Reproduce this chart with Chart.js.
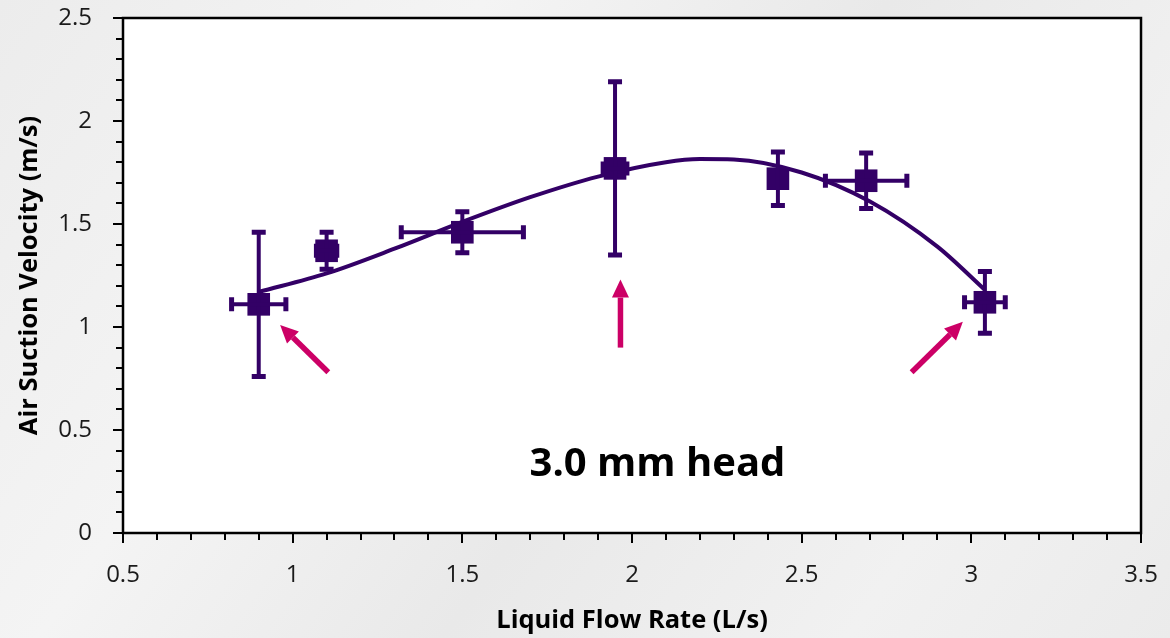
<!doctype html>
<html>
<head>
<meta charset="UTF-8">
<script src="https://cdn.jsdelivr.net/npm/chart.js@4"></script>
<style>
  html, body { margin: 0; padding: 0; }
  body { width: 1170px; height: 638px; overflow: hidden;
    background: linear-gradient(125deg, #ececec 0%, #f4f4f4 30%, #e9e9e9 55%, #f1f1f1 80%, #ebebeb 100%); }
  #wrap { position: relative; width: 1170px; height: 638px; }
  canvas { display: block; }
</style>
</head>
<body>
<div id="wrap"><canvas id="chart" width="1170" height="638"></canvas></div>
<script>
// measured points (L/s vs m/s) with error bars
const flowRate    = [0.90, 1.10, 1.50, 1.95, 2.43, 2.69, 3.04];
const airVelocity = [1.11, 1.37, 1.46, 1.77, 1.72, 1.71, 1.12];
const velErr      = [0.35, 0.09, 0.10, 0.42, 0.13, 0.135, 0.15];
const flowErr     = [0.08, 0.03, 0.18, 0.035, 0, 0.12, 0.06];

// trend curve
const fitFlow = [0.90, 1.10, 1.30, 1.50, 1.70, 1.90, 2.10, 2.20, 2.30, 2.50, 2.70, 2.90, 3.04];
const fitVel  = [1.17, 1.26, 1.38, 1.51, 1.63, 1.73, 1.80, 1.815, 1.813, 1.75, 1.61, 1.39, 1.18];

// axis ticks
const xTicks = [0.5, 1, 1.5, 2, 2.5, 3, 3.5];
const yTicks = [0, 0.5, 1, 1.5, 2, 2.5];

// pink arrows [tailX, tailY, tipX, tipY] and the label
const arrows = [[1.105, 0.78, 0.963, 1.01], [1.966, 0.90, 1.966, 1.23], [2.824, 0.78, 2.975, 1.025]];
const headLabel = { text: "3.0 mm head", x: 2.075, y: 0.33 };

const PURPLE = "#330066";
const PINK = "#cc0066";
const FONT = "'Open Sans', Lato, sans-serif";

const points = flowRate.map((x, i) => ({ x, y: airVelocity[i] }));
const curve = fitFlow.map((x, i) => ({ x, y: fitVel[i] }));

const decor = {
  id: "decor",
  beforeDraw(chart) {
    const { ctx, chartArea: a } = chart;
    ctx.save();
    ctx.fillStyle = "#fff";
    ctx.fillRect(a.left, a.top, a.right - a.left, a.bottom - a.top);
    ctx.restore();
  },
  afterDatasetsDraw(chart) {
    const { ctx, chartArea: a, scales: { x, y } } = chart;
    ctx.save();
    // error bars
    ctx.strokeStyle = PURPLE;
    ctx.lineCap = "butt";
    const cap = 7;
    flowRate.forEach((fx, i) => {
      const px = x.getPixelForValue(fx), py = y.getPixelForValue(airVelocity[i]);
      if (velErr[i]) {
        const t = y.getPixelForValue(airVelocity[i] + velErr[i]);
        const b = y.getPixelForValue(airVelocity[i] - velErr[i]);
        ctx.lineWidth = 4;
        ctx.beginPath(); ctx.moveTo(px, t); ctx.lineTo(px, b); ctx.stroke();
        ctx.lineWidth = 5;
        ctx.beginPath();
        ctx.moveTo(px - cap, t); ctx.lineTo(px + cap, t);
        ctx.moveTo(px - cap, b); ctx.lineTo(px + cap, b);
        ctx.stroke();
      }
      if (flowErr[i]) {
        const l = x.getPixelForValue(fx - flowErr[i]);
        const r = x.getPixelForValue(fx + flowErr[i]);
        ctx.lineWidth = 4;
        ctx.beginPath(); ctx.moveTo(l, py); ctx.lineTo(r, py); ctx.stroke();
        ctx.lineWidth = 5;
        ctx.beginPath();
        ctx.moveTo(l, py - cap); ctx.lineTo(l, py + cap);
        ctx.moveTo(r, py - cap); ctx.lineTo(r, py + cap);
        ctx.stroke();
      }
    });
    // arrows
    ctx.strokeStyle = PINK; ctx.fillStyle = PINK;
    arrows.forEach(([tx, ty, hx, hy]) => {
      const x0 = x.getPixelForValue(tx), y0 = y.getPixelForValue(ty);
      const x1 = x.getPixelForValue(hx), y1 = y.getPixelForValue(hy);
      const ang = Math.atan2(y1 - y0, x1 - x0);
      const hl = 18, hw = 8.5;
      const bx = x1 - hl * Math.cos(ang), by = y1 - hl * Math.sin(ang);
      ctx.lineWidth = 5.5;
      ctx.beginPath(); ctx.moveTo(x0, y0); ctx.lineTo(bx, by); ctx.stroke();
      ctx.beginPath();
      ctx.moveTo(x1, y1);
      ctx.lineTo(bx + hw * Math.sin(ang), by - hw * Math.cos(ang));
      ctx.lineTo(bx - hw * Math.sin(ang), by + hw * Math.cos(ang));
      ctx.closePath(); ctx.fill();
    });
    // label
    ctx.fillStyle = "#000";
    ctx.font = "bold 40px " + FONT;
    ctx.textAlign = "center"; ctx.textBaseline = "middle";
    ctx.fillText(headLabel.text, x.getPixelForValue(headLabel.x), y.getPixelForValue(headLabel.y));
    ctx.restore();
  },
  afterDraw(chart) {
    const { ctx, chartArea: a, scales: { x, y } } = chart;
    ctx.save();
    ctx.strokeStyle = "#000";
    ctx.lineWidth = 2.5;
    ctx.strokeRect(a.left, a.top, a.right - a.left, a.bottom - a.top);
    ctx.lineWidth = 2;
    ctx.beginPath();
    for (let k = 5; k <= 35; k++) {
      const px = Math.round(x.getPixelForValue(k / 10));
      const len = k % 5 === 0 ? 10 : 7;
      ctx.moveTo(px, a.bottom); ctx.lineTo(px, a.bottom + len);
    }
    for (let k = 0; k <= 25; k++) {
      const py = Math.round(y.getPixelForValue(k / 10));
      const len = k % 5 === 0 ? 10 : 7;
      ctx.moveTo(a.left, py); ctx.lineTo(a.left - len, py);
    }
    ctx.stroke();
    ctx.restore();
  }
};

new Chart(document.getElementById("chart"), {
  type: "scatter",
  data: {
    datasets: [
      {
        label: "fit",
        type: "line",
        data: curve,
        borderColor: PURPLE,
        borderWidth: 4,
        pointRadius: 0,
        tension: 0.4,
        cubicInterpolationMode: "monotone",
        fill: false
      },
      {
        label: "3.0 mm head",
        data: points,
        pointStyle: "rect",
        pointRadius: 16,
        pointHoverRadius: 16,
        backgroundColor: PURPLE,
        borderColor: PURPLE,
        borderWidth: 0
      }
    ]
  },
  options: {
    responsive: false,
    animation: false,
    devicePixelRatio: 1,
    layout: { autoPadding: false, padding: { left: 0, top: 18, right: 29, bottom: 0 } },
    plugins: { legend: { display: false }, tooltip: { enabled: false } },
    scales: {
      x: {
        type: "linear",
        min: xTicks[0], max: xTicks[xTicks.length - 1],
        afterBuildTicks: s => { s.ticks = xTicks.map(v => ({ value: v })); },
        afterFit: s => { s.height = 105; s.paddingLeft = 0; s.paddingRight = 0; },
        grid: { display: false, drawTicks: false },
        border: { display: false },
        ticks: { padding: 28, color: "#1a1a1a", font: { family: FONT, size: 24 },
          callback: v => String(v) },
        title: { display: true, text: "Liquid Flow Rate (L/s)", color: "#000",
          font: { family: FONT, size: 25.5, weight: "bold" }, padding: { top: 0, bottom: 2 } }
      },
      y: {
        type: "linear",
        min: yTicks[0], max: yTicks[yTicks.length - 1],
        afterBuildTicks: s => { s.ticks = yTicks.map(v => ({ value: v })); },
        afterFit: s => { s.width = 123; s.paddingTop = 0; s.paddingBottom = 0; },
        grid: { display: false, drawTicks: false },
        border: { display: false },
        ticks: { padding: 31, color: "#1a1a1a", font: { family: FONT, size: 24 },
          callback: v => String(v) },
        title: { display: true, text: "Air Suction Velocity (m/s)", color: "#000",
          font: { family: FONT, size: 25.5, weight: "bold" }, padding: { top: 14, bottom: 0 } }
      }
    }
  },
  plugins: [decor]
});
</script>
</body>
</html>
